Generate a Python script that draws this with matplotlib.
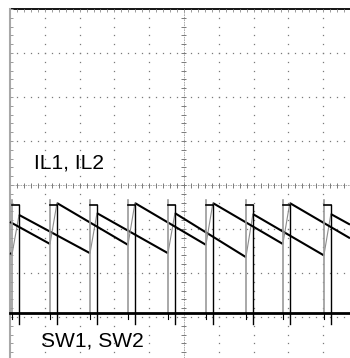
import numpy as np
import matplotlib.pyplot as plt

# screen units: 1 unit = 1 division of the scope graticule, 0 = centre line
plt.rcParams["font.family"] = ["Liberation Sans", "DejaVu Sans"]

# switching instants (div)
sw1_edges = [0.06, 2.30, 4.54, 6.78, 9.02]
sw2_edges = [1.15, 3.39, 5.63, 7.84]
t_on = 0.2

# switch node levels (div)
sw_low = -2.91
sw_high = -0.45
sw_under = -3.16

# inductor currents: valley at turn-on, peak at turn-off (div)
il1_valley = [-1.57, -1.55, -1.55, -1.64, -1.60]
il1_peak = [-0.68, -0.64, -0.64, -0.66, -0.66]
il2_valley = [-1.34, -1.36, -1.36, -1.34]
il2_peak = [-0.41, -0.41, -0.41, -0.41]
il1_start, il1_end = -1.55, -0.90
il2_start, il2_end = -0.84, -1.21

x0, x1 = -0.287, 9.770
y0, y1 = -3.932, 4.205
x_end = x1

fig = plt.figure(figsize=(3.5, 3.58), dpi=100)
ax = fig.add_axes([0, 0, 1, 1])
ax.set_xlim(x0, x1)
ax.set_ylim(y0, y1)
ax.axis("off")

px_x = 1 / 34.8   # one pixel in x (div)
px_y = 1 / 44.0   # one pixel in y (div)
dot = "#7a7a7a"

# dotted graticule
ys = np.arange(-4, 4.001, 0.2)
xs = np.arange(0, 10.001, 0.2)
for gx in [1, 2, 3, 4, 6, 7, 8, 9]:
    ax.plot(np.full(len(ys), gx), ys, ls="none", marker="s", ms=0.9, color=dot, mew=0)
for gy in [-3, -2, -1, 1, 2, 3]:
    ax.plot(xs, np.full(len(xs), gy), ls="none", marker="s", ms=0.9, color=dot, mew=0)

# centre axes with small ticks
ax.plot([5, 5], [y0, 4], color="#a0a0a0", lw=0.6, ls=(0, (2, 1)))
ax.plot([0, x1], [0, 0], color="#a0a0a0", lw=0.6, ls=(0, (2, 1)))
ax.hlines(ys, 5 - 2.5 * px_x, 5 + 2.5 * px_x, color="#7a7a7a", lw=0.7)
ax.vlines(xs, -2.5 * px_y, 2.5 * px_y, color="#7a7a7a", lw=0.7)

# screen border (top and left) with ticks
ax.plot([0, x1], [4, 4], color="black", lw=1.3)
ax.vlines(xs, 4 - 3 * px_y, 4, color="#9a9a9a", lw=0.7)
ax.plot([0, 0], [y0, 4], color="#a8a8a8", lw=1.5)
ax.hlines(ys, 0, 3 * px_x, color="#9a9a9a", lw=0.7)


def draw_il(edges, valley, peak, start, end):
    # fast rise during on-time is faint, slow fall is bright
    xs_f = [0] + [e + t_on for e in edges]
    ys_f = [start] + peak
    xe_f = edges + [x_end]
    ye_f = valley + [end]
    for a, b, c, d in zip(xs_f, ys_f, xe_f, ye_f):
        ax.plot([a, c], [b, d], color="black", lw=1.5, solid_capstyle="butt")
    for e, v, p in zip(edges, valley, peak):
        ax.plot([e, e + t_on], [v, p], color="#8c8c8c", lw=0.8)


def draw_sw(edges):
    for e in edges:
        ax.plot([e, e], [sw_low, sw_high + 0.1], color="#9a9a9a", lw=1.2)
        ax.plot([e, e + t_on], [sw_high, sw_high], color="black", lw=1.2)
        ax.plot([e + t_on, e + t_on], [sw_under, sw_high], color="black", lw=1.0)
        ax.plot([e, e], [sw_under + 0.12, sw_low], color="black", lw=0.8)


draw_il(sw1_edges, il1_valley, il1_peak, il1_start, il1_end)
draw_il(sw2_edges, il2_valley, il2_peak, il2_start, il2_end)
draw_sw(sw1_edges)
draw_sw(sw2_edges)
ax.plot([0, x_end], [sw_low, sw_low], color="black", lw=2.0)

ax.text(0.70, 0.386, "IL1, IL2", fontsize=15.1, va="baseline", ha="left")
ax.text(0.90, -3.68, "SW1, SW2", fontsize=15.1, va="baseline", ha="left")

fig.savefig("out.png", dpi=100)
